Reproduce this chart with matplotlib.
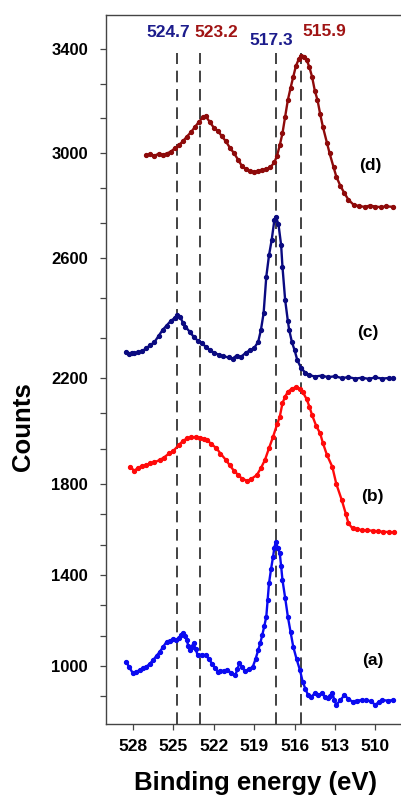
import numpy as np
import matplotlib
matplotlib.use("Agg")
import matplotlib.pyplot as plt
from matplotlib.ticker import FixedLocator, NullFormatter

plt.rcParams['font.family'] = ['Liberation Sans', 'DejaVu Sans']

# ---------------- data ----------------
E_d = [527.0, 526.7, 526.4, 526.1, 525.8, 525.5, 525.2, 524.9, 524.6, 524.3, 524.0, 523.7, 523.4, 523.1,
       522.8, 522.6, 522.3, 522.0, 521.7, 521.4, 521.1, 520.8, 520.5, 520.2, 519.9, 519.6, 519.3, 519.0,
       518.7, 518.4, 518.1, 517.8, 517.5, 517.3, 517.1, 516.9, 516.7, 516.5, 516.3, 516.1, 515.9, 515.7,
       515.5, 515.3, 515.1, 514.9, 514.7, 514.5, 514.3, 514.1, 513.9, 513.6, 513.4, 513.1, 512.9, 512.6,
       512.3, 512.0, 511.6, 511.2, 510.8, 510.4, 510.0, 509.6, 509.2, 508.7]
C_d = [2992, 2995, 2990, 2997, 2993, 2998, 3005, 3018, 3030, 3045, 3063, 3080, 3100, 3120,
       3138, 3142, 3120, 3098, 3085, 3065, 3045, 3020, 3000, 2975, 2950, 2938, 2930, 2928,
       2932, 2935, 2940, 2945, 2965, 2990, 3030, 3076, 3140, 3204, 3250, 3293, 3335, 3360,
       3372, 3368, 3358, 3330, 3293, 3240, 3204, 3150, 3101, 3040, 2999, 2945, 2910, 2875,
       2847, 2822, 2802, 2798, 2795, 2800, 2796, 2794, 2797, 2795]

E_c = [528.5, 528.3, 528.1, 527.9, 527.6, 527.3, 527.0, 526.7, 526.4, 526.1, 525.8, 525.5, 525.2, 524.9,
       524.7, 524.5, 524.3, 524.1, 523.8, 523.5, 523.2, 522.9, 522.6, 522.3, 522.0, 521.6, 521.3, 520.9,
       520.6, 520.3, 520.0, 519.6, 519.3, 519.0, 518.7, 518.5, 518.3, 518.1, 517.9, 517.7, 517.5, 517.4,
       517.2, 517.0, 516.9, 516.7, 516.5, 516.4, 516.2, 516.0, 515.8, 515.5, 515.2, 514.9, 514.5, 514.0,
       513.5, 513.0, 512.5, 512.0, 511.5, 511.0, 510.5, 510.0, 509.5, 509.0, 508.7]
C_c = [2288, 2280, 2285, 2282, 2286, 2290, 2300, 2310, 2320, 2340, 2360, 2375, 2390, 2400,
       2410, 2405, 2385, 2371, 2355, 2338, 2325, 2316, 2305, 2293, 2285, 2277, 2272, 2269,
       2265, 2275, 2270, 2285, 2293, 2300, 2321, 2360, 2416, 2538, 2610, 2669, 2745, 2757,
       2730, 2650, 2571, 2460, 2390, 2360, 2320, 2293, 2260, 2232, 2218, 2210, 2205, 2208,
       2203, 2206, 2200, 2203, 2198, 2201, 2197, 2202, 2198, 2200, 2199]

E_b = [528.2, 527.9, 527.6, 527.3, 527.0, 526.7, 526.4, 526.0, 525.7, 525.3, 525.0, 524.6, 524.3, 524.0,
       523.7, 523.3, 523.0, 522.7, 522.5, 522.2, 521.8, 521.5, 521.1, 520.8, 520.5, 520.2, 519.9, 519.5,
       519.2, 518.8, 518.5, 518.2, 517.9, 517.6, 517.3, 517.1, 516.9, 516.7, 516.5, 516.2, 515.9, 515.6,
       515.4, 515.1, 514.9, 514.7, 514.4, 514.1, 513.9, 513.6, 513.2, 512.9, 512.5, 512.2, 512.0, 511.7,
       511.4, 511.0, 510.6, 510.2, 509.8, 509.4, 509.0, 508.6]
C_b = [1865, 1850, 1862, 1868, 1872, 1878, 1882, 1891, 1900, 1916, 1925, 1947, 1962, 1972,
       1976, 1978, 1975, 1970, 1966, 1952, 1935, 1915, 1891, 1870, 1850, 1835, 1820, 1812,
       1820, 1834, 1860, 1891, 1935, 1978, 2025, 2054, 2105, 2130, 2148, 2160, 2165, 2158,
       2148, 2120, 2092, 2060, 2020, 1991, 1955, 1910, 1865, 1800, 1730, 1670, 1627, 1605,
       1601, 1598, 1596, 1595, 1592, 1590, 1589, 1588]

E_a = [528.5, 528.3, 528.0, 527.75, 527.5, 527.25, 527.0, 526.75, 526.5, 526.25, 526.0, 525.75, 525.5,
       525.25, 525.0, 524.8, 524.6, 524.45, 524.3, 524.15, 524.0, 523.9, 523.8, 523.65, 523.5, 523.35,
       523.2, 522.9, 522.6, 522.35, 522.1, 521.9, 521.7, 521.5, 521.25, 521.0, 520.7, 520.4, 520.25,
       520.1, 519.9, 519.7, 519.4, 519.1, 518.9, 518.7, 518.55, 518.4, 518.25, 518.1, 518.0, 517.9,
       517.75, 517.6, 517.5, 517.4, 517.25, 517.1, 517.0, 516.9, 516.7, 516.5, 516.3, 516.1, 515.85,
       515.6, 515.4, 515.2, 515.0, 514.75, 514.5, 514.25, 514.0, 513.75, 513.5, 513.35, 513.2, 513.05,
       512.9, 512.6, 512.3, 512.0, 511.7, 511.4, 511.0, 510.7, 510.35, 510.0, 509.75, 509.5, 509.1, 508.7]
C_a = [1019, 997, 968, 975, 982, 990, 997, 1010, 1026, 1045, 1063, 1085, 1107,
       1112, 1117, 1115, 1122, 1135, 1144, 1130, 1114, 1090, 1070, 1085, 1100, 1075,
       1048, 1050, 1048, 1030, 1008, 990, 975, 980, 978, 982, 970, 960, 985,
       1012, 995, 979, 985, 997, 1030, 1070, 1100, 1136, 1175, 1217, 1290, 1363,
       1425, 1480, 1520, 1546, 1520, 1495, 1440, 1378, 1300, 1217, 1150, 1085, 1030,
       982, 931, 900, 872, 865, 880, 872, 880, 865, 858, 870, 883, 850,
       829, 850, 872, 855, 843, 848, 850, 850, 845, 829, 842, 850, 848, 850]

series_labels = ["(a)", "(b)", "(c)", "(d)"]
label_E = [510.2, 510.2, 510.6, 510.4]
label_C = [1026, 1743, 2353, 2954]

dash_E = [524.7, 523.0, 517.4, 515.5]
peak_texts = ["524.7", "523.2", "517.3", "515.9"]
peak_text_E = [525.4, 521.8, 517.7, 513.8]
peak_text_C = [3462, 3465, 3433, 3468]

ytick_major = [1000, 1400, 1800, 2200, 2600, 3000, 3400]
xticks = [528, 525, 522, 519, 516, 513, 510]

# ---------------- colours ----------------
col_a = "#0A0AF0"
col_b = "#FF0A0A"
col_c = "#0A0A80"
col_d = "#8E0A0A"
col_lbl_blue = "#1C1C8C"
col_lbl_red = "#A01414"

# piecewise-linear y scale (as in reference)
scale_c = np.array([500, 1000, 1400, 1800, 2200, 2600, 3000, 3400, 4000], float)
scale_p = np.array([779.7, 666, 575, 484, 378, 258, 153, 49, -107], float)

def fwd(c):
    return -np.interp(c, scale_c, scale_p)

def inv(v):
    return np.interp(-np.asarray(v), scale_p[::-1], scale_c[::-1])

W, H = 401, 796
fig = plt.figure(figsize=(W / 100, H / 100), dpi=100)
ax = fig.add_axes([106 / W, 1 - 724 / H, 1 - 106 / W, (724 - 15) / H])
ax.set_yscale('function', functions=(fwd, inv))

for E, C, col in [(E_a, C_a, col_a), (E_b, C_b, col_b), (E_c, C_c, col_c), (E_d, C_d, col_d)]:
    ax.plot(E, C, color=col, lw=1.7, marker='o', ms=2.8, mec=col, mfc=col, zorder=3)

ax.set_xlim(530.0, 508.1)
ax.set_ylim(745, 3531)

ax.vlines(dash_E, 745, 3385, colors="#222222", lw=1.2, linestyles=(0, (7, 4)), zorder=2)

for t, x, y, c in zip(peak_texts, peak_text_E, peak_text_C,
                      [col_lbl_blue, col_lbl_red, col_lbl_blue, col_lbl_red]):
    ax.text(x, y, t, color=c, fontsize=12.5, fontweight='bold', ha='center', va='center')

for t, x, y in zip(series_labels, label_E, label_C):
    ax.text(x, y, t, color='black', fontsize=12.5, fontweight='bold', ha='center', va='center')

ax.set_xticks(xticks)
ax.set_xticklabels([str(v) for v in xticks])
ax.yaxis.set_major_locator(FixedLocator(ytick_major))
ax.set_yticklabels([str(v) for v in ytick_major])
minor = [3400 - k * 400 / 3 for k in range(0, 22)]
minor = [m for m in minor if m > 760 and all(abs(m - t) > 1 for t in ytick_major)]
ax.yaxis.set_minor_locator(FixedLocator(minor))
ax.yaxis.set_minor_formatter(NullFormatter())

ax.tick_params(axis='y', which='both', direction='out', length=4, width=0.9, color='#444444',
               labelsize=12, pad=9)
ax.tick_params(axis='x', which='both', direction='out', length=4, width=0.9, color='#444444',
               labelsize=12.5, pad=7)
for lab in ax.get_xticklabels() + ax.get_yticklabels():
    lab.set_fontweight('bold')

for s in ['left', 'bottom', 'top']:
    ax.spines[s].set_color('#444444')
    ax.spines[s].set_linewidth(1.0)
ax.spines['right'].set_visible(False)

fig.text(255.5 / W, 1 - 783 / H, "Binding energy (eV)", fontsize=18.5, fontweight='bold',
         ha='center', va='center')
fig.text(23 / W, 1 - 427 / H, "Counts", fontsize=18.5, fontweight='bold',
         ha='center', va='center', rotation=90)

fig.savefig("out.png", dpi=100)
